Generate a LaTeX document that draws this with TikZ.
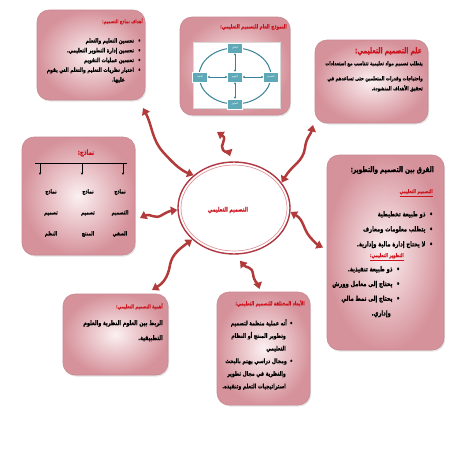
\documentclass[tikz,border=0pt]{standalone}
\usepackage{fontspec}
\usetikzlibrary{arrows.meta,shadows,shapes.geometric}
\TeXXeTstate=1
\newfontfamily\arfont[Script=Arabic,FakeStretch=0.75,BoldFeatures={FakeBold=1}]{DejaVu Sans}
\newcommand{\AR}[1]{\beginR #1\endR}
\definecolor{arrowred}{RGB}{178,58,58}
\definecolor{titlered}{RGB}{205,20,30}
\definecolor{boxedge}{RGB}{214,146,155}
\definecolor{boxmid}{RGB}{251,240,241}
\definecolor{boxline}{RGB}{200,135,144}
\definecolor{tealbox}{RGB}{95,168,184}
\definecolor{tealline}{RGB}{55,130,150}
\definecolor{ellout}{RGB}{175,55,65}
\definecolor{ellin}{RGB}{222,150,156}
\tikzset{
  pinkbox/.style={draw=boxline, line width=0.6pt, rounded corners=12pt,
    inner color=boxmid, outer color=boxedge, inner sep=0pt, outer sep=0pt,
    drop shadow={opacity=0.22, shadow xshift=1.2pt, shadow yshift=-1.5pt}},
  titletext/.style={text=titlered, inner sep=0pt, anchor=north east,
    font=\arfont\bfseries\fontsize{#1}{#1}\selectfont},
  bodytext/.style 2 args={text=black, inner sep=0pt, anchor=north east, align=right,
    font=\arfont\bfseries\fontsize{#1}{#2}\selectfont},
  wavearrow/.style={draw=arrowred, line width=2.5pt,
    {Triangle[length=6.5pt,width=8.5pt]}-{Triangle[length=6.5pt,width=8.5pt]}},
  tealnode/.style={draw=white, line width=0.3pt, fill=tealbox, minimum width=15pt,
    minimum height=10pt, inner sep=0pt, text=white,
    font=\arfont\fontsize{2.9}{3}\selectfont},
  tealarrow/.style={draw=tealline, line width=0.8pt,
    {Latex[length=2pt,width=2.6pt]}-{Latex[length=2pt,width=2.6pt]}},
  smalldown/.style={draw=black, line width=0.5pt, -{Stealth[length=2.5pt,width=2.2pt]}},
  colword/.style={text=black, inner sep=0pt, align=center,
    font=\arfont\bfseries\fontsize{5.65}{21}\selectfont}
}
\begin{document}
\begin{tikzpicture}[x=1pt,y=-1pt]
\useasboundingbox[fill=white] (0,0) rectangle (453,453);

% boxes
\node[pinkbox, minimum width=108pt, minimum height=90pt, anchor=north west] (A) at (37,10) {};
\node[pinkbox, minimum width=110pt, minimum height=98pt, anchor=north west] (B) at (180,17) {};
\node[pinkbox, minimum width=113pt, minimum height=83pt, anchor=north west] (C) at (315,40) {};
\node[pinkbox, minimum width=113pt, minimum height=118pt, anchor=north west] (D) at (22,137) {};
\node[pinkbox, minimum width=117pt, minimum height=195pt, anchor=north west] (E) at (327,155) {};
\node[pinkbox, minimum width=105pt, minimum height=81pt, anchor=north west] (F) at (63,294) {};
\node[pinkbox, minimum width=93pt, minimum height=113pt, anchor=north west] (G) at (217,292) {};

% central ellipse
\node[ellipse, draw=ellout, line width=1.4pt, fill=white, minimum width=112pt, minimum height=92pt, inner sep=0pt] (core) at (234,208) {};
\draw[ellin, line width=0.7pt] (core.center) ellipse [x radius=53, y radius=43];
\node[text=titlered, inner sep=0pt, font=\arfont\bfseries\fontsize{6.3}{7}\selectfont] (coretext) at (228,210) {\AR{التصميم التعليمي}};

% box A
\node[titletext=5] (At) at (143,18) {\AR{أهداف نماذج التصميم:}};
\node[bodytext={5.9}{9.75}] (Ab) at (141,38) {%
\AR{•\hspace{4pt}تحسين التعليم والتعلم}\\
\AR{•\hspace{4pt}تحسين إدارة التطوير التعليمي.}\\
\AR{•\hspace{4pt}تحسين عمليات التقويم}\\
\AR{•\hspace{4pt}اختيار نظريات التعليم والتعلم التي يقوم}\\
\AR{\hspace{16pt}عليها.}};

% box B
\node[titletext=5.65] (Bt) at (287,24) {\AR{النموذج العام للتصميم التعليمي:}};
\node[fill=white, draw=black!15, line width=0.3pt, minimum width=87pt, minimum height=66pt, inner sep=0pt,
  drop shadow={opacity=0.2, shadow xshift=0.8pt, shadow yshift=-0.8pt}] (panel) at (236.5,75) {};
\draw[tealline, line width=1pt] (235,76) ellipse [x radius=36, y radius=28];
\node[tealnode] (tT) at (235,48) {\AR{التحليل}};
\node[tealnode] (tR) at (271,77) {\AR{التصميم}};
\node[tealnode] (tB) at (235,104) {\AR{التطوير}};
\node[tealnode] (tL) at (200,77) {\AR{التنفيذ}};
\node[tealnode] (tC) at (235,77) {\AR{التقويم}};
\draw[tealarrow] (tC) -- (tT);
\draw[tealarrow] (tC) -- (tR);
\draw[tealarrow] (tC) -- (tB);
\draw[tealarrow] (tC) -- (tL);

% box C
\node[titletext=8] (Ct) at (422,47) {\AR{علم التصميم التعليمي:}};
\node[bodytext={5.4}{10}] (Cb) at (423,61) {%
\AR{يتطلب تصميم مواد تعليمية تتناسب مع استعدادات}\\[5pt]
\AR{واحتياجات وقدرات المتعلمين حتى تساعدهم في}\\
\AR{تحقيق الأهداف المنشودة.}};

% box D
\node[titletext=7.1, anchor=center] (Dt) at (86,153) {\AR{نماذج:}};
\coordinate (Dl) at (35,163);
\coordinate (Dr) at (127,163);
\draw[line width=0.6pt] (Dl) -- (Dr);
\coordinate (Dd1) at (40,163);
\coordinate (Dd2) at (82,163);
\coordinate (Dd3) at (123,163);
\draw[smalldown] (Dd1) -- ++(0,12);
\draw[smalldown] (Dd2) -- ++(0,12);
\draw[smalldown] (Dd3) -- ++(0,12);
\node[colword, anchor=north] (Dc1) at (120,189) {\AR{نماذج}\\\AR{التصميم}\\\AR{الصفي}};
\node[colword, anchor=north] (Dc2) at (88,189) {\AR{نماذج}\\\AR{تصميم}\\\AR{المنتج}};
\node[colword, anchor=north] (Dc3) at (51,189) {\AR{نماذج}\\\AR{تصميم}\\\AR{النظم}};

% box E
\node[bodytext={7.7}{8}] (Et) at (434,166) {\AR{الفرق بين التصميم والتطوير:}};
\node[titletext=5.2] (Es1) at (433,189) {\underline{\AR{التصميم التعليمي}}};
\node[bodytext={6.9}{15}] (Eb1) at (433,211) {%
\AR{•\hspace{4pt}ذو طبيعة تخطيطية}\\
\AR{•\hspace{4pt}يتطلب معلومات ومعارف}\\
\AR{•\hspace{4pt}لا يحتاج إدارة مالية وإدارية.}};
\node[titletext=5.2] (Es2) at (404,253) {\underline{\AR{التطوير التعليمي:}}};
\node[bodytext={6.9}{14.7}] (Eb2) at (400,266) {%
\AR{•\hspace{4pt}ذو طبيعة تنفيذية.}\\
\AR{•\hspace{4pt}يحتاج إلى معامل وورش}\\
\AR{•\hspace{4pt}يحتاج إلى نمط مالي}\\
\AR{\hspace{9pt}وإداري.}};

% box F
\node[titletext=5.2] (Ft) at (163,303) {\AR{أهمية التصميم التعليمي:}};
\node[bodytext={6.5}{15}] (Fb) at (163,320) {%
\AR{الربط بين العلوم النظرية والعلوم}\\
\AR{التطبيقية.}};

% box G
\node[titletext=5.5] (Gt) at (305,300) {\AR{الأبعاد المختلفة للتصميم التعليمي:}};
\node[bodytext={6.2}{12.6}] (Gb) at (293,319) {%
\AR{•\hspace{3pt}أنه عملية منظمة لتصميم}\\
\AR{\hspace{7pt}وتطوير المنتج أو النظام}\\
\AR{\hspace{7pt}التعليمي}\\
\AR{•\hspace{3pt}ومجال دراسي يهتم بالبحث}\\
\AR{\hspace{7pt}والنظرية في مجال تطوير}\\
\AR{\hspace{7pt}استراتيجيات التعلم وتنفيذه.}};

% connectors
\draw[wavearrow] ([shift={(-2,8)}]A.south east) .. controls (152,125) and (152,140) .. (163,152) .. controls (172,162) and (180,170) .. (core.141);
\draw[wavearrow] ([shift={(-18,17)}]B.south) .. controls (228,139) and (219,145) .. (223,150) .. controls (226,153) and (229,153) .. ([shift={(-4,-5)}]core.north);
\draw[wavearrow] (core.28) .. controls (292,165) and (303,162) .. (305,148) .. controls (306,138) and (311,134) .. ([shift={(-2,2)}]C.south west);
\draw[wavearrow] (core.-4) .. controls (304,220) and (303,229) .. (310,237) .. controls (314,242) and (318,245) .. ([shift={(-4,-5)}]E.west);
\draw[wavearrow] ([shift={(5,-37)}]D.south east) .. controls (150,213) and (155,220) .. (162,215) .. controls (167,212) and (170,211) .. (core.182);
\draw[wavearrow] (core.217) .. controls (178,250) and (172,255) .. (170,265) .. controls (168,278) and (162,284) .. ([shift={(-16,-4)}]F.north east);
\draw[wavearrow] ([shift={(6,6)}]core.south) .. controls (246,268) and (252,266) .. (253,274) .. controls (254,282) and (258,284) .. ([shift={(-4,-3)}]G.north);
\end{tikzpicture}
\end{document}
